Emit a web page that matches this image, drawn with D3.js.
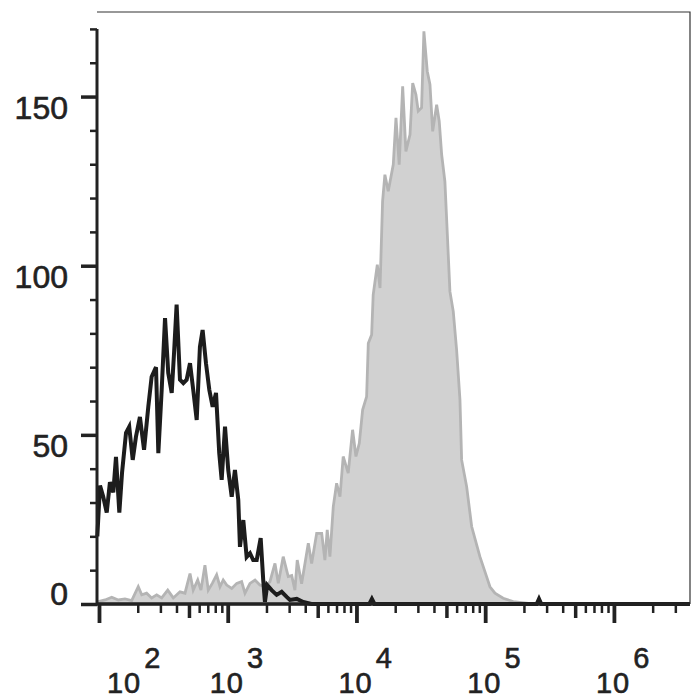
<!doctype html>
<html>
<head>
	<script src="https://d3js.org/d3.v7.min.js"></script>
	<style>
		body { margin: 0; background: #fff; }
		svg { display: block; }
		text { font-family: "Liberation Sans", Arial, sans-serif; fill: #222; stroke: #222; stroke-width: 0.6px; }
	</style>
</head>
<body>
	<svg width="700" height="700"></svg>
	<script>

		// isotype control (black outline) - log10 fluorescence and event counts
		var ctrlLog = [1.987, 2.008, 2.033, 2.060, 2.085, 2.111, 2.132, 2.158, 2.179, 2.210,
			2.235, 2.262, 2.287, 2.318, 2.350, 2.383, 2.409, 2.443, 2.461, 2.487,
			2.513, 2.538, 2.565, 2.583, 2.603, 2.629, 2.655, 2.681, 2.707, 2.732,
			2.759, 2.784, 2.805, 2.831, 2.857, 2.883, 2.909, 2.934, 2.953, 2.979,
			3.004, 3.031, 3.056, 3.082, 3.095, 3.121, 3.147, 3.173, 3.198, 3.225,
			3.256, 3.276, 3.289, 3.307, 3.341, 3.380, 3.419, 3.458, 3.483, 3.536,
			3.587, 3.650, 4.100, 4.120, 4.140, 5.400, 5.418, 5.436, 6.590];
		var ctrlCount = [20, 35, 31.7, 27, 36, 33, 43.5, 27, 38.8, 50.6,
			52.4, 42.6, 49.4, 55.3, 45.6, 58.3, 67.2, 70, 44.6, 63.3,
			84.5, 68.3, 62.4, 74.2, 88.5, 66.3, 65.3, 66.3, 71.2, 63.3,
			54.4, 76, 81, 71.2, 63.3, 58.3, 62.4, 44.6, 36.7, 52.4,
			39.6, 31.7, 39.6, 30.8, 16.9, 24.8, 13.9, 15, 13, 13,
			19.5, 7, 0.6, 5.6, 4.1, 2.7, 3.6, 2.1, 1.2, 1.5,
			0.6, 0, 0, 1.5, 0, 0, 1.5, 0, 0];

		// stained sample (grey filled)
		var stainLog = [1.995, 2.047, 2.099, 2.150, 2.202, 2.254, 2.305, 2.332, 2.370, 2.409,
			2.448, 2.487, 2.534, 2.577, 2.629, 2.668, 2.707, 2.732, 2.767, 2.792,
			2.823, 2.849, 2.880, 2.914, 2.940, 2.965, 2.992, 3.031, 3.070, 3.108,
			3.134, 3.173, 3.212, 3.250, 3.289, 3.328, 3.367, 3.393, 3.431, 3.470,
			3.497, 3.522, 3.540, 3.574, 3.600, 3.626, 3.652, 3.691, 3.730, 3.755,
			3.773, 3.794, 3.820, 3.846, 3.872, 3.897, 3.936, 3.970, 3.996, 4.022,
			4.048, 4.079, 4.092, 4.118, 4.130, 4.162, 4.183, 4.203, 4.221, 4.247,
			4.286, 4.307, 4.332, 4.359, 4.384, 4.416, 4.437, 4.462, 4.480, 4.506,
			4.524, 4.550, 4.571, 4.592, 4.623, 4.643, 4.662, 4.687, 4.705, 4.726,
			4.752, 4.778, 4.804, 4.817, 4.856, 4.895, 4.959, 5.011, 5.037, 5.076,
			5.140, 5.218, 5.371, 6.590];
		var stainCount = [0.7, 1.2, 2, 1.2, 1.5, 1, 5.1, 2.7, 3.2, 1.8,
			2.7, 1.8, 4.1, 1.8, 3.6, 3.2, 9, 4.1, 7.1, 4.1,
			11.5, 4.1, 6.1, 8.6, 5.1, 7.1, 5.6, 4.6, 6.1, 6.6,
			3.2, 6.1, 7.1, 5.6, 5.1, 6.6, 12, 6.1, 14, 8.1,
			8.4, 4.1, 13, 6, 12, 18, 12, 20.9, 20.9, 13,
			21.9, 14, 28.8, 35.7, 31.7, 43.6, 38.7, 51.5, 43.6, 47.5,
			57.4, 61.3, 77.1, 79.6, 91.4, 100.3, 93.4, 119, 126.9, 122,
			129.9, 143.7, 129.9, 153, 133.8, 138.8, 154, 150.6, 145.7, 146.7,
			169.3, 157.5, 153.6, 139.7, 147.6, 142.7, 132.8, 124.9, 110.1, 92.4,
			86.5, 75.1, 60.4, 42.6, 34.7, 22.9, 14, 8.1, 5.1, 3.2,
			1.7, 0.7, 0, 0];

		var yTicks = [0, 50, 100, 150];
		var yTickLabels = ["0", "50", "100", "150"];
		var xDecades = [2, 3, 4, 5, 6];
		var xTickLabels = ["2", "3", "4", "5", "6"];

		var svg = d3.select("svg");
		var margin = {top: 12, right: 10, bottom: 96, left: 97};
		var width = 700, height = 700;

		var xScale = d3.scaleLog()
			.domain([96.5, 3.9e6])
			.range([margin.left, width - margin.right]);

		var yScale = d3.scaleLinear()
			.domain([0, 175])
			.range([height - margin.bottom, margin.top]);

		var stain = stainLog.map((l, i) => ({v: Math.pow(10, l), c: stainCount[i]}));
		var ctrl = ctrlLog.map((l, i) => ({v: Math.pow(10, l), c: ctrlCount[i]}));

		// frame (thin top / right)
		svg.append("path")
			.attr("d", "M" + xScale.range()[0] + "," + yScale(175) + "H" + xScale.range()[1] + "V" + yScale(0))
			.attr("fill", "none")
			.attr("stroke", "#333")
			.attr("stroke-width", 1.2);

		// grey histogram
		var area = d3.area()
			.x(d => xScale(d.v))
			.y0(yScale(0))
			.y1(d => yScale(d.c));

		svg.append("path")
			.datum(stain)
			.attr("d", area)
			.attr("fill", "#d1d1d1")
			.attr("stroke", "#b4b4b4")
			.attr("stroke-width", 2.8)
			.attr("stroke-linejoin", "miter");

		// black histogram
		var line = d3.line()
			.x(d => xScale(d.v))
			.y(d => yScale(d.c));

		svg.append("path")
			.datum(ctrl)
			.attr("d", line)
			.attr("fill", "none")
			.attr("stroke", "#1c1c1c")
			.attr("stroke-width", 4)
			.attr("stroke-linejoin", "miter");

		// Axes
		var minorY = d3.range(10, 171, 10).filter(v => v % 50 != 0);
		var minorX = [], midX = [];
		xDecades.forEach(e => {
			for (var k = 2; k <= 9; k++) {
				var v = k * Math.pow(10, e);
				if (v > xScale.domain()[1]) continue;
				if (k == 5) midX.push(v); else minorX.push(v);
			}
		});

		function tickAxis(axis, sw, tr) {
			var g = svg.append("g")
				.attr("transform", tr)
				.call(axis);
			g.select(".domain").remove();
			g.selectAll("line").attr("stroke", "#222").attr("stroke-width", sw);
			return g;
		}

		var yLeft = "translate(" + margin.left + ",0)";
		tickAxis(d3.axisLeft(yScale).tickValues(minorY).tickSize(7).tickFormat(""), 2.5, yLeft);
		tickAxis(d3.axisLeft(yScale).tickValues(yTicks).tickSize(16).tickFormat(""), 3.5, yLeft);

		var xBottom = "translate(0," + yScale(0) + ")";
		tickAxis(d3.axisBottom(xScale).tickValues(minorX).tickSize(9).tickFormat(""), 2.5, xBottom);
		tickAxis(d3.axisBottom(xScale).tickValues(midX).tickSize(14).tickFormat(""), 3.5, xBottom);
		tickAxis(d3.axisBottom(xScale).tickValues(xDecades.map(e => Math.pow(10, e))).tickSize(19).tickFormat(""), 3.8, xBottom);

		// thick axis lines
		svg.append("line")
			.attr("x1", margin.left).attr("x2", margin.left)
			.attr("y1", yScale(0)).attr("y2", yScale(170))
			.attr("stroke", "#222").attr("stroke-width", 3);
		svg.append("line")
			.attr("x1", margin.left).attr("x2", xScale.range()[1])
			.attr("y1", yScale(0)).attr("y2", yScale(0))
			.attr("stroke", "#222").attr("stroke-width", 3.5);

		// y labels
		svg.selectAll(".ylab")
			.data(yTicks)
			.enter()
			.append("text")
				.attr("class", "ylab")
				.attr("x", 68)
				.attr("y", d => yScale(d) + (d == 0 ? 1 : 22.5))
				.attr("text-anchor", "end")
				.attr("font-size", 32)
				.text((d, i) => yTickLabels[i]);

		// x labels 10^n
		var xl = svg.selectAll(".xlab")
			.data(xDecades)
			.enter()
			.append("text")
				.attr("class", "xlab")
				.attr("x", (d, i) => xScale(Math.pow(10, d)) + (i == 0 ? 8 : -18))
				.attr("y", 693)
				.attr("font-size", 29)
				.attr("letter-spacing", 1);
		xl.append("tspan").text("10");
		xl.append("tspan")
			.attr("dx", 3)
			.attr("dy", -25)
			.text((d, i) => xTickLabels[i]);

	</script>
</body>
</html>
